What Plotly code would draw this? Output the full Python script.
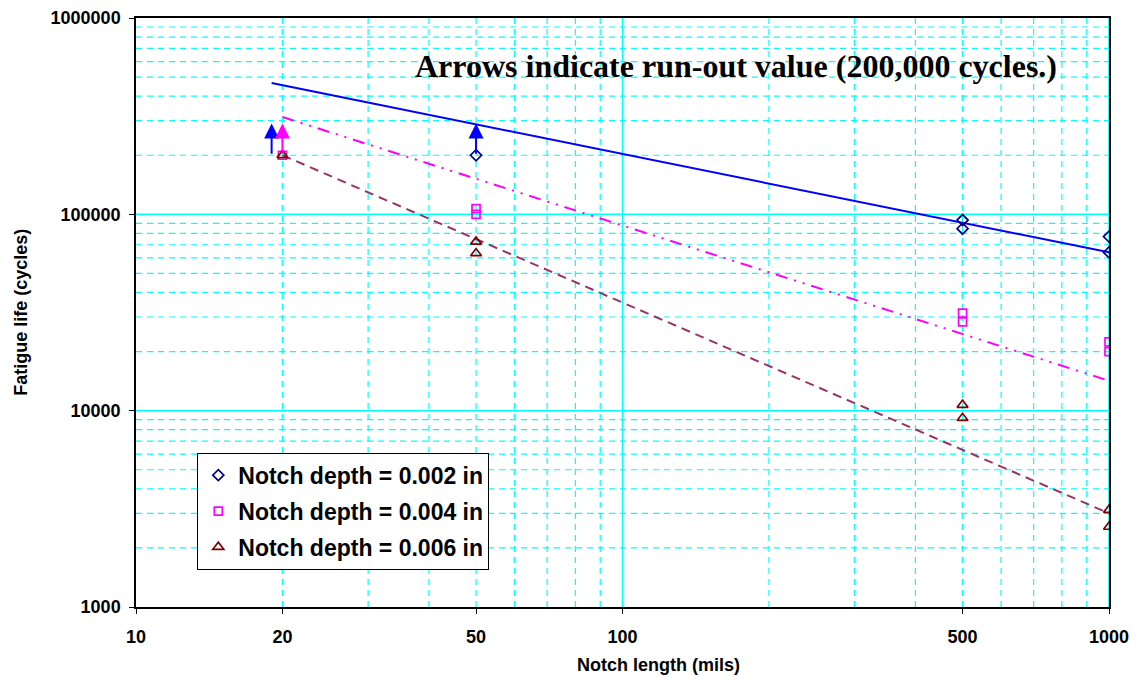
import numpy as np
import plotly.graph_objects as go

# ---- data ----
x_d002 = [50, 500, 500, 1000, 1000]
y_d002 = [200000, 93500, 84500, 77000, 64000]

x_d004 = [20, 50, 50, 500, 500, 1000, 1000]
y_d004 = [200000, 107000, 100000, 31400, 28300, 22400, 20000]

x_d006 = [20, 50, 50, 500, 500, 1000, 1000]
y_d006 = [200000, 72500, 63300, 10700, 9170, 3120, 2560]

fit_x_d002 = [19, 1000]
fit_y_d002 = [467000, 64000]
fit_x_d004 = [20, 1000]
fit_y_d004 = [313000, 14200]
fit_x_d006 = [20, 1000]
fit_y_d006 = [200000, 3000]

runout_x = [19, 20, 50]
runout_base = [200000, 200000, 200000]
runout_tip = [290000, 290000, 290000]
runout_color = ["#0000FF", "#FF00FF", "#0000FF"]

x_tickvals = [10, 20, 50, 100, 500, 1000]
y_tickvals = [1000, 10000, 100000, 1000000]
x_minor = [20, 30, 40, 50, 60, 70, 80, 90, 200, 300, 400, 500, 600, 700, 800, 900]
y_minor = [m * d for d in (1000, 10000, 100000) for m in range(2, 10)]
x_major_grid = [100, 1000]
y_major_grid = [10000, 100000]

FONT = "Arial, Liberation Sans, sans-serif"
GRID = "#00FFFF"

fig = go.Figure()

# fitted lines
fig.add_trace(go.Scatter(x=fit_x_d002, y=fit_y_d002, mode="lines",
                         line=dict(color="#0000FF", width=2), showlegend=False))
fig.add_trace(go.Scatter(x=fit_x_d004, y=fit_y_d004, mode="lines",
                         line=dict(color="#FF00FF", width=2, dash="12px,7px,2px,7px,2px,7px"),
                         showlegend=False))
fig.add_trace(go.Scatter(x=fit_x_d006, y=fit_y_d006, mode="lines",
                         line=dict(color="#993366", width=2, dash="9px,6px"), showlegend=False))

# data markers
fig.add_trace(go.Scatter(x=x_d002, y=y_d002, mode="markers", name="Notch depth = 0.002 in",
                         legendgroup="a",
                         marker=dict(symbol="diamond-open", size=8.5, color="#000080",
                                     line=dict(width=1.7, color="#000080"))))
fig.add_trace(go.Scatter(x=x_d004, y=y_d004, mode="markers", name="Notch depth = 0.004 in",
                         legendgroup="b",
                         marker=dict(symbol="square-open", size=8, color="#FF00FF",
                                     line=dict(width=1.7, color="#FF00FF"))))
fig.add_trace(go.Scatter(x=x_d006, y=y_d006, mode="markers", name="Notch depth = 0.006 in",
                         legendgroup="c",
                         marker=dict(symbol="triangle-up-open", size=9.5, color="#800000",
                                     line=dict(width=1.7, color="#800000"))))

# dashed minor grid lines
for gx in x_minor:
    fig.add_shape(type="line", xref="x", yref="paper", x0=gx, x1=gx, y0=0, y1=1,
                  line=dict(color=GRID, width=1.2, dash="6px,5px"), layer="below")
for gy in y_minor:
    fig.add_shape(type="line", xref="paper", yref="y", x0=0, x1=1, y0=gy, y1=gy,
                  line=dict(color=GRID, width=1.2, dash="6px,5px"), layer="below")
# solid major grid lines
for gx in x_major_grid:
    fig.add_shape(type="line", xref="x", yref="paper", x0=gx, x1=gx, y0=0, y1=1,
                  line=dict(color=GRID, width=1.5), layer="below")
for gy in y_major_grid:
    fig.add_shape(type="line", xref="paper", yref="y", x0=0, x1=1, y0=gy, y1=gy,
                  line=dict(color=GRID, width=1.5), layer="below")

# run-out arrows
for ax_, b, t, c in zip(runout_x, runout_base, runout_tip, runout_color):
    fig.add_annotation(x=np.log10(ax_), y=np.log10(t), ax=np.log10(ax_), ay=np.log10(b),
                       xref="x", yref="y", axref="x", ayref="y", text="",
                       showarrow=True, arrowhead=2, arrowsize=1.5, arrowwidth=2,
                       arrowcolor=c)

fig.add_annotation(x=0.6167, y=0.9185, xref="paper", yref="paper",
                   text="<b>Arrows indicate run-out value (200,000 cycles.)</b>",
                   showarrow=False, xanchor="center", yanchor="middle",
                   font=dict(family="Times New Roman, Liberation Serif, serif", size=32,
                             color="black"))

fig.add_annotation(x=(658 - 136) / 973, y=-0.098, xref="paper", yref="paper",
                   text="<b>Notch length (mils)</b>", showarrow=False,
                   xanchor="center", yanchor="middle",
                   font=dict(family=FONT, size=18, color="black"))
fig.add_annotation(x=-0.119, y=0.5, xref="paper", yref="paper",
                   text="<b>Fatigue life (cycles)</b>", showarrow=False, textangle=-90,
                   xanchor="center", yanchor="middle",
                   font=dict(family=FONT, size=18, color="black"))

fig.update_xaxes(type="log", range=[1, 3], automargin=False,
                 tickmode="array", tickvals=x_tickvals,
                 ticktext=[str(v) for v in x_tickvals],
                 tickfont=dict(family=FONT, size=18, color="black", weight="bold"),
                 showgrid=False, zeroline=False,
                 showline=True, linecolor="black", linewidth=1.5, mirror=True,
                 ticks="outside", ticklen=5, tickcolor="black",
                 ticklabelstandoff=8)
fig.update_yaxes(type="log", range=[3, 6], automargin=False,
                 tickmode="array", tickvals=y_tickvals,
                 ticktext=[str(v) for v in y_tickvals],
                 tickfont=dict(family=FONT, size=18, color="black", weight="bold"),
                 showgrid=False, zeroline=False,
                 showline=True, linecolor="black", linewidth=1.5, mirror=True,
                 ticks="outside", ticklen=5, tickcolor="black",
                 ticklabelstandoff=5)

fig.update_layout(
    width=1138, height=681,
    margin=dict(l=136, r=29, t=18, b=74),
    paper_bgcolor="white", plot_bgcolor="white",
    font=dict(family=FONT, color="black"),
    legend=dict(x=0.063, y=0.262, xanchor="left", yanchor="top",
                bgcolor="white", bordercolor="black", borderwidth=1,
                font=dict(family=FONT, size=23, color="black", weight="bold"),
                tracegroupgap=3, traceorder="grouped", itemwidth=30),
    showlegend=True,
)

fig.write_html("out.html")
